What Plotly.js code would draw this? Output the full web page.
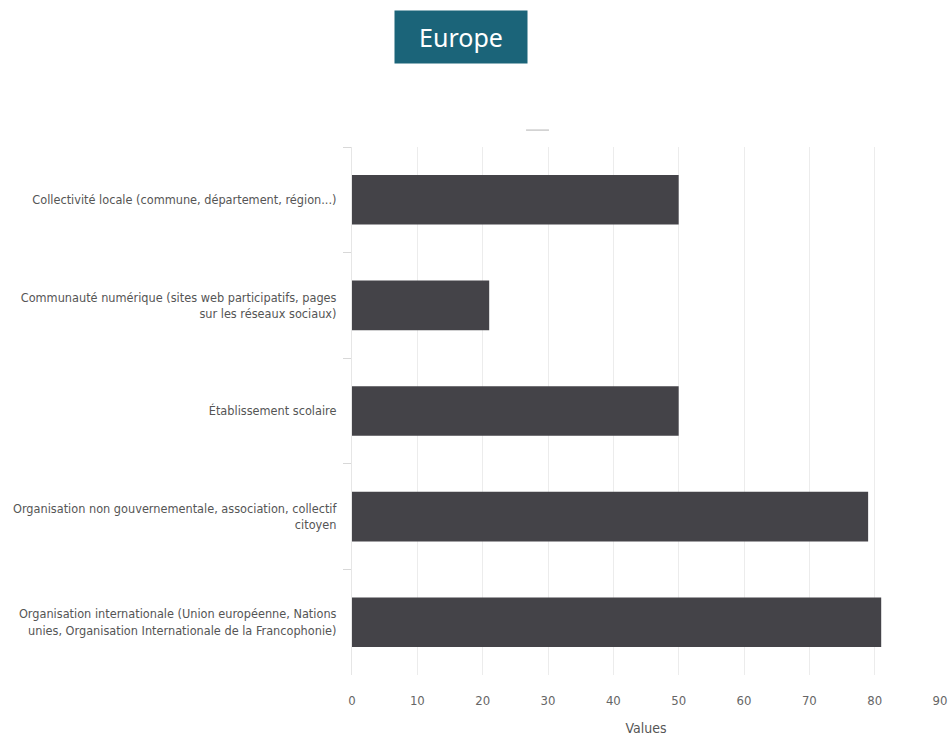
<!DOCTYPE html>
<html>
<head>
<meta charset="utf-8">
<script src="https://cdn.plot.ly/plotly-3.0.1.min.js"></script>
<style>html,body{margin:0;padding:0;background:#fff;}#chart{width:950px;height:737px;}</style>
</head>
<body>
<div id="chart"></div>
<script>
const categories = [
  "Collectivité locale (commune, département, région...)",
  "Communauté numérique (sites web participatifs, pages<br>sur les réseaux sociaux)",
  "Établissement scolaire",
  "Organisation non gouvernementale, association, collectif<br>citoyen",
  "Organisation internationale (Union européenne, Nations<br>unies, Organisation Internationale de la Francophonie)"
];
const values = [50, 21, 50, 79, 81];
const xTicks = [0, 10, 20, 30, 40, 50, 60, 70, 80, 90];

const trace = {
  type: 'bar',
  orientation: 'h',
  y: categories,
  x: values,
  marker: {color: '#444348'},
  hoverinfo: 'x+y'
};

const layout = {
  width: 950, height: 737,
  margin: {l: 352, r: 10, t: 147, b: 62},
  paper_bgcolor: '#fff', plot_bgcolor: '#fff',
  showlegend: false,
  bargap: 0.53,
  font: {family: 'DejaVu Sans Condensed, Liberation Sans Narrow, sans-serif', color: '#555'},
  xaxis: {
    range: [0, 90],
    tickvals: xTicks,
    ticktext: xTicks.map(String),
    showgrid: true, gridcolor: '#ececec', gridwidth: 1,
    zeroline: false, showline: false,
    ticks: '', tickfont: {size: 13, color: '#666'},
    ticklabelstandoff: 16,
    title: {text: 'Values', font: {size: 14, color: '#555'}, standoff: 16}
  },
  yaxis: {
    autorange: 'reversed',
    tickson: 'boundaries',
    ticks: 'outside', ticklen: 8, tickcolor: '#d8d8d8', tickwidth: 1,
    showline: true, linecolor: '#e6e6e6',
    showgrid: false,
    tickfont: {size: 12.6, color: '#555'},
    ticklabelstandoff: 12
  },
  shapes: [
    {type: 'line', xref: 'paper', yref: 'paper', x0: 0.296, x1: 0.335, y0: 1.032, y1: 1.032,
     line: {color: '#cccccc', width: 1.5}}
  ],
  annotations: [
    {xref: 'paper', yref: 'paper', x: 0.186, y: 1.209, xanchor: 'center', yanchor: 'middle',
     text: 'Europe', showarrow: false,
     font: {family: 'Noto Sans, sans-serif', size: 25, color: '#ffffff'},
     bgcolor: '#1b6479', borderpad: 10, width: 112, height: 32}
  ]
};

Plotly.newPlot('chart', [trace], layout, {displayModeBar: false, staticPlot: true});
</script>
</body>
</html>
